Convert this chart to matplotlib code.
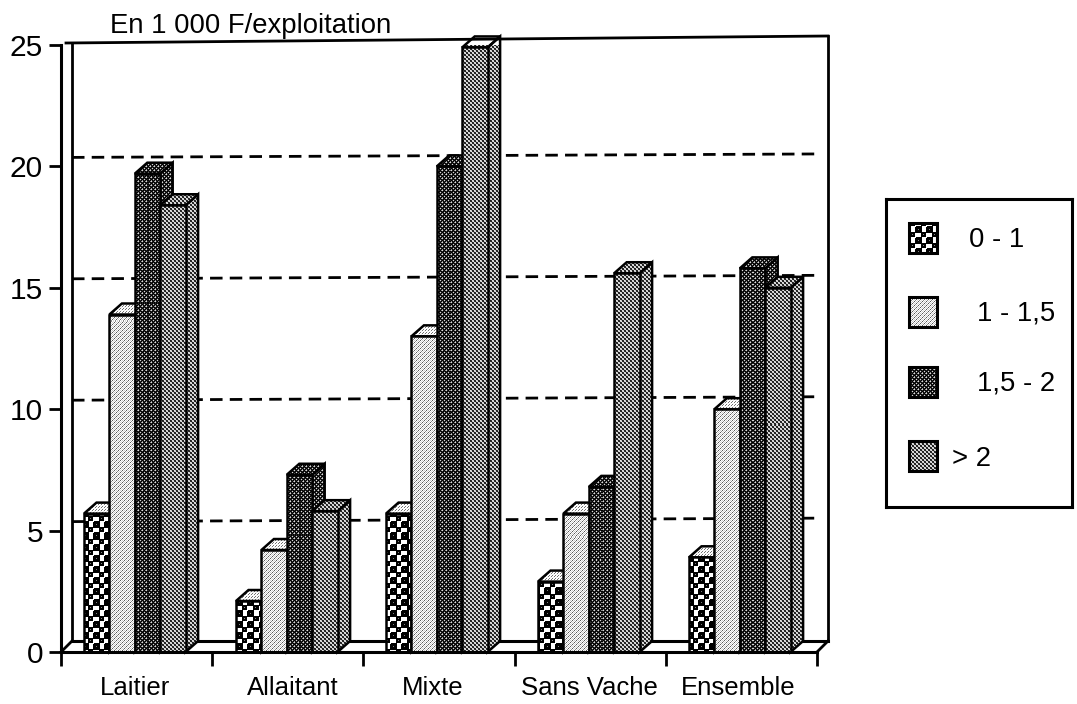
import numpy as np
import matplotlib
matplotlib.use('Agg')
import matplotlib.pyplot as plt
from matplotlib.patches import Polygon

plt.rcParams['font.family'] = ['Liberation Sans', 'DejaVu Sans']

categories = ['Laitier', 'Allaitant', 'Mixte', 'Sans Vache', 'Ensemble']
classes = ['0 - 1', '1 - 1,5', '1,5 - 2', '> 2']
v_0_1 = [5.7, 2.1, 5.7, 2.9, 3.9]
v_1_15 = [13.9, 4.2, 13.0, 5.7, 10.0]
v_15_2 = [19.7, 7.3, 20.0, 6.8, 15.8]
v_2 = [18.4, 5.8, 24.9, 15.6, 15.0]
series = [v_0_1, v_1_15, v_15_2, v_2]
y_ticks = [0, 5, 10, 15, 20, 25]

W, H = 1077, 704
X0, X1, Y0, Y25 = 61, 817, 652, 45
FS = 18.5

fig = plt.figure(figsize=(W / 100, H / 100), dpi=100)
ax = fig.add_axes([X0 / W, 1 - Y0 / H, (X1 - X0) / W, (Y0 - Y25) / H])
ax.set_xlim(0, 5)
ax.set_ylim(0, 25)

# pixel <-> data helpers
ux = 5 / (X1 - X0)
uy = 25 / (Y0 - Y25)
DX, DY = 12.5 * ux, 11 * uy
bar_w = 25.4 * ux
group_px = [84, 236, 386, 538, 689]


def tile(kind):
    if kind == 'check':
        t = np.ones((11, 11))
        t[:5, :5] = 0
        t[5:, 5:] = 0
        t[0, :] = 0
        t[:, 0] = 0
        t[5, 6:] = 0
        t[6:, 5] = 0
        t[5, 5] = 1
        t[2, 2] = .5
        t[8, 8] = .5
        return t
    if kind == 'light':
        return np.array([[.35, 1, .8, 1], [1, .85, 1, .55], [.8, 1, .35, 1], [1, .55, 1, .85]])
    if kind == 'dark':
        return np.array([[.85, .15, 0, .15], [.15, 0, .55, 0], [0, .55, .85, .15], [.15, 0, .15, 0]])
    if kind == 'medium':
        return np.array([[.9, .75, .1, .2], [.75, .9, .2, .1], [.1, .2, .9, .75], [.2, .1, .75, .9]])
    return np.array([[1, 1, .45], [1, .9, 1], [.45, 1, 1]])


def texture(kind):
    t = tile(kind)
    ny = H // t.shape[0] + 1
    nx = W // t.shape[1] + 1
    return np.tile(t, (ny, nx))[:H, :W]


full_extent = [-X0 * ux, (W - X0) * ux, -(H - Y0) * uy, Y0 * uy]


def paint(patch, kind, z):
    ax.add_patch(patch)
    patch.set_zorder(z + .2)
    im = ax.imshow(texture(kind), cmap='gray', vmin=0, vmax=1, extent=full_extent,
                   origin='upper', aspect='auto', interpolation='nearest', zorder=z)
    im.set_clip_path(patch)
    im.set_clip_on(True)


# back wall, floor
WL, WR = 11 * ux, 5 + 11 * ux
ax.plot([5 * ux, WR], [25 + 2 * uy, 25 + 9 * uy], color='k', lw=2, clip_on=False, zorder=1)
ax.plot([WR, WR], [25 + 9 * uy, DY], color='k', lw=2, clip_on=False, zorder=1)
ax.plot([WL, WL], [25 + 2 * uy, DY], color='k', lw=2, clip_on=False, zorder=1)
ax.plot([WL, WR], [DY, DY], color='k', lw=2.2, clip_on=False, zorder=1)
ax.plot([0, WL], [0, DY], color='k', lw=2, clip_on=False, zorder=1)
ax.plot([5, WR], [0, DY], color='k', lw=2, clip_on=False, zorder=1)
for v in y_ticks[1:5]:
    ax.plot([WL, WR], [v + 9 * uy, v + 12.5 * uy], color='k', lw=2, ls=(0, (4.5, 2.6)), zorder=1.5)

kinds = ['check', 'light', 'dark', 'medium']
z = 3
for g, px in enumerate(group_px):
    for s, vals in enumerate(series):
        x = (px - X0) * ux + s * bar_w
        v = vals[g]
        rect = ax.bar(x, v, bar_w, align='edge', facecolor='none', edgecolor='k', lw=1.8)[0]
        side = Polygon([(x + bar_w, 0), (x + bar_w + DX, DY), (x + bar_w + DX, v + DY), (x + bar_w, v)],
                       fill=False, edgecolor='k', lw=1.8, clip_on=False)
        top = Polygon([(x, v), (x + DX, v + DY), (x + bar_w + DX, v + DY), (x + bar_w, v)],
                      fill=False, edgecolor='k', lw=1.8, clip_on=False)
        paint(side, kinds[s], z)
        paint(top, 'top' if s < 2 else kinds[s], z + 1)
        rect.set_zorder(z + 2.2)
        im = ax.imshow(texture(kinds[s]), cmap='gray', vmin=0, vmax=1, extent=full_extent,
                       origin='upper', aspect='auto', interpolation='nearest', zorder=z + 2)
        im.set_clip_path(rect)
        z += 3

ax.set_xlim(0, 5)
ax.set_ylim(0, 25)
ax.set_aspect('auto')
for name in ['top', 'right']:
    ax.spines[name].set_visible(False)
for name in ['left', 'bottom']:
    ax.spines[name].set_linewidth(2.2)
    ax.spines[name].set_zorder(500)

ax.set_yticks(y_ticks)
ax.tick_params(axis='y', length=9, width=2, labelsize=FS + 3, pad=4)
ax.set_xticks(range(6))
ax.set_xticklabels([])
ax.tick_params(axis='x', which='major', length=10, width=2)
label_px = [135, 293, 433, 589, 738]
ax.set_xticks([(p - X0) * ux for p in label_px], categories, minor=True)
ax.tick_params(axis='x', which='minor', length=0, labelsize=FS, pad=17)

ax.text((110 - X0) * ux, 25 + 12 * uy, 'En 1 000 F/exploitation', fontsize=FS + 1.3, ha='left', va='baseline', clip_on=False)

# legend box, drawn in pixel coords
leg = fig.add_axes([886 / W, 1 - 507 / H, (1072 - 886) / W, (507 - 199) / H])
leg.set_xlim(886, 1072)
leg.set_ylim(507, 199)
leg.set_xticks([])
leg.set_yticks([])
for sp in leg.spines.values():
    sp.set_linewidth(2.2)
swatch_y = [223, 297, 367, 441]
text_x = [969, 977, 977, 952]
text_y = [240, 313, 384, 459]
for s, name in enumerate(classes):
    patch = Polygon([(909, swatch_y[s]), (937, swatch_y[s]), (937, swatch_y[s] + 30), (909, swatch_y[s] + 30)],
                    fill=False, edgecolor='k', lw=2.2)
    leg.add_patch(patch)
    im = leg.imshow(texture(kinds[s]), cmap='gray', vmin=0, vmax=1,
                    extent=[800, 800 + W, 199 + H, 199], origin='upper', aspect='auto', interpolation='nearest', zorder=1)
    im.set_clip_path(patch)
    patch.set_zorder(2)
    leg.text(text_x[s], text_y[s], name, fontsize=FS + 1.3, ha='left', va='center')
leg.set_xlim(886, 1072)
leg.set_ylim(507, 199)

fig.savefig('out.png', dpi=100)
